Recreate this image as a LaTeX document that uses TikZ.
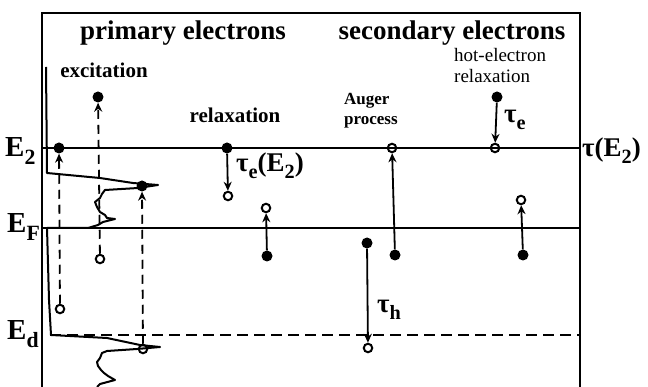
\documentclass[tikz,border=0pt]{standalone}
\usepackage{fontspec}
\setmainfont{Liberation Serif}
\usetikzlibrary{arrows.meta}
\newcommand\dsub[1]{\raisebox{-0.55ex}{\scalebox{0.75}{#1}}}
\tikzset{
  electron/.style={circle, fill=black, inner sep=0pt, minimum size=11pt},
  hole/.style={circle, draw=black, line width=2pt, inner sep=0pt, minimum size=8.5pt},
  level/.style={line width=2pt},
  frame/.style={line width=1.5pt},
  dos/.style={line width=2pt, line join=round},
  arr/.style={line width=1.8pt, -{Stealth[length=9pt,width=8pt]}},
  darr/.style={arr, dash pattern=on 9pt off 6pt},
  title/.style={font=\bfseries\fontsize{27}{29}\selectfont, inner sep=0pt},
  lab/.style={font=\bfseries\fontsize{21}{22}\selectfont, inner sep=0pt},
  elab/.style={font=\bfseries\fontsize{29}{30}\selectfont, inner sep=0pt},
  tlab/.style={font=\bfseries\fontsize{27}{28}\selectfont, inner sep=0pt}
}
\begin{document}
\begin{tikzpicture}[x=1pt,y=-1pt]
\useasboundingbox (0,0) rectangle (648,387);
% frame
\draw[frame] (42,387) -- (42,13) -- (580,13) -- (580,387);
% levels
\coordinate (e2l) at (42,148); \coordinate (e2r) at (580,148);
\coordinate (efl) at (42,228); \coordinate (efr) at (580,228);
\coordinate (edl) at (50,335); \coordinate (edr) at (580,335);
\draw[level] (e2l) -- (e2r);
\draw[level] (efl) -- (efr);
\draw[level, dash pattern=on 11pt off 6pt] (edl) -- (edr);
% density of states curve
\draw[dos] (46,67) -- (47,173) -- (100,178) -- (133,183) -- (158,185) -- (138,188)
  -- (105,190) -- (102,194) -- (100,198) -- (95,202) -- (97,207) -- (100,212)
  -- (105,215) -- (107,218) -- (115,219) -- (103,222) -- (98,225) -- (88,228)
  -- (47,228) -- (49,300) -- (51,335) -- (107,338) -- (140,345) -- (160,347)
  -- (137,349) -- (107,351) -- (102,353) -- (100,358) -- (97,362) -- (98,366)
  -- (101,370) -- (104,373) -- (108,376) -- (115,380) -- (100,384) -- (97,387);
% level labels
\node[elab, anchor=base west] (lE2) at (5,157) {E\dsub{2}};
\node[elab, anchor=base west] (lEF) at (7,233) {E\dsub{F}};
\node[elab, anchor=base west] (lEd) at (7,340) {E\dsub{d}};
\node[tlab, anchor=west] (ltau) at (582,151) {τ(E\dsub{2})};
% titles
\node[title] (t1) at (183,33) {primary electrons};
\node[title] (t2) at (452,33) {secondary electrons};
\node[lab] (lexc) at (104,70) {excitation};
\node[lab] (lrel) at (235,115) {relaxation};
\node[font=\bfseries\fontsize{17}{20}\selectfont, inner sep=0pt, align=left, anchor=west] (laug) at (344,111) {Auger\\process};
\node[font=\fontsize{19}{21}\selectfont, inner sep=0pt, align=left, anchor=west] (lhot) at (454,66) {hot-electron\\relaxation};
% excitation
\node[hole] (h1) at (60,309) {};
\node[electron] (e1) at (59,148) {};
\node[hole] (h2) at (100,259) {};
\node[electron] (e2) at (98,97) {};
\node[hole] (h3) at (143,349) {};
\node[electron] (e3) at (142,186) {};
\draw[darr] (h1) -- (e1);
\draw[darr] (h2) -- (e2);
\draw[darr] (h3) -- (e3);
% relaxation
\node[electron] (e4) at (227,148) {};
\node[hole] (h4) at (228,196) {};
\node[electron] (e5) at (267,256) {};
\node[hole] (h5) at (266,208) {};
\draw[arr] (e4) -- (h4);
\draw[arr] (e5) -- (h5);
\node[tlab, anchor=west] (lte2) at (236,166) {τ\dsub{e}(E\dsub{2})};
% Auger
\node[electron] (e6) at (367,243) {};
\node[hole] (h6) at (368,348) {};
\node[electron] (e7) at (395,255) {};
\node[hole] (h7) at (392,148) {};
\draw[arr] (e6) -- (h6);
\draw[arr] (e7) -- (h7);
\node[tlab, anchor=west] (lth) at (377,310) {τ\dsub{h}};
% hot electron
\node[electron] (e8) at (497,97) {};
\node[hole] (h8) at (495,148) {};
\node[electron] (e9) at (523,255) {};
\node[hole] (h9) at (521,200) {};
\draw[arr] (e8) -- (h8);
\draw[arr] (e9) -- (h9);
\node[tlab, anchor=west] (lte) at (504,120) {τ\dsub{e}};
\end{tikzpicture}
\end{document}
